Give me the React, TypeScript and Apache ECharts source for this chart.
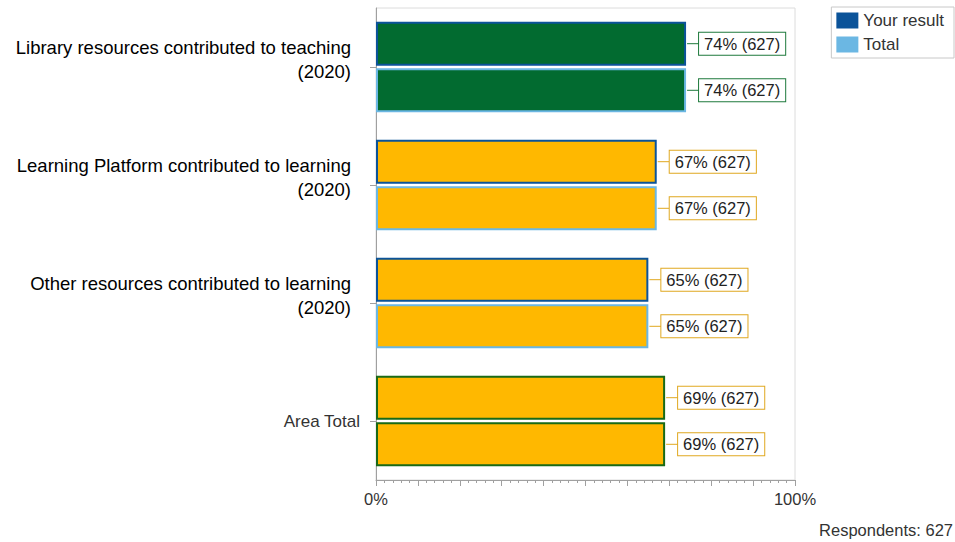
import React, { useEffect, useRef } from "react";
import * as echarts from "echarts";

const categories = [
  "Library resources contributed to teaching\n(2020)",
  "Learning Platform contributed to learning\n(2020)",
  "Other resources contributed to learning\n(2020)",
  "Area Total",
];
const yourResult = [74, 67, 65, 69];
const totalResult = [74, 67, 65, 69];
const respondents = [627, 627, 627, 627];
const fillColors = ["#026B30", "#FFB800", "#FFB800", "#FFB800"];
const labelBorderColors = ["#1E7A3C", "#E0A820", "#E0A820", "#E0A820"];
const seriesNames = ["Your result", "Total"];
const seriesBorders = ["#0B5399", "#6BB7E3"];
const areaTotalBorder = "#1A6A16";
const xTickLabels = ["0%", "100%"];
const respondentsText = "Respondents: 627";

const FONT = "'Liberation Sans', Arial, sans-serif";
const BAR_W = 44;
const BAR_GAP = 2.6;

export default function App() {
  const ref = useRef<HTMLDivElement>(null);
  useEffect(() => {
    if (!ref.current) return;
    const chart = echarts.init(ref.current, null, { renderer: "svg" });
    const values = [yourResult, totalResult];
    const barSeries = values.map((vals, si) => ({
      type: "bar",
      name: seriesNames[si],
      barWidth: BAR_W,
      barGap: (BAR_GAP / BAR_W) * 100 + "%",
      itemStyle: { color: seriesBorders[si] },
      data: vals.map((v, i) => ({
        value: v,
        itemStyle: {
          color: fillColors[i],
          borderColor: i === 3 ? areaTotalBorder : seriesBorders[si],
          borderWidth: 2,
        },
      })),
      z: 2,
    }));
    const labelData: any[] = [];
    values.forEach((vals, si) =>
      vals.forEach((v, i) => labelData.push([v, i, si, respondents[i]]))
    );
    const option: any = {
      animation: false,
      textStyle: { fontFamily: FONT },
      grid: {
        left: 376,
        right: 160,
        top: 8,
        bottom: 62,
        show: true,
        borderColor: "#dcdcdc",
        borderWidth: 1,
        backgroundColor: "transparent",
      },
      legend: {
        orient: "vertical",
        right: 1,
        top: 7,
        itemWidth: 22,
        itemHeight: 16,
        itemGap: 7,
        padding: [5, 10, 5, 5],
        borderColor: "#c8c8c8",
        borderWidth: 1,
        icon: "rect",
        textStyle: { fontSize: 17, color: "#333", fontFamily: FONT },
        data: seriesNames.map((n, si) => ({
          name: n,
          itemStyle: { color: seriesBorders[si], borderWidth: 0 },
        })),
      },
      xAxis: {
        type: "value",
        min: 0,
        max: 100,
        interval: 10,
        splitLine: { show: false },
        axisLine: { show: true, lineStyle: { color: "#a0a0a0" } },
        axisTick: { show: true, length: 6, lineStyle: { color: "#a0a0a0" } },
        minorTick: { show: true, splitNumber: 5, length: 3, lineStyle: { color: "#a0a0a0" } },
        axisLabel: {
          fontSize: 16.5,
          color: "#333",
          margin: 10,
          fontFamily: FONT,
          formatter: (v: number) => (v === 0 ? xTickLabels[0] : v === 100 ? xTickLabels[1] : ""),
        },
      },
      yAxis: {
        type: "category",
        inverse: true,
        data: categories,
        axisLine: { show: true, lineStyle: { color: "#a0a0a0" } },
        axisTick: { show: true, alignWithLabel: true, length: 6, lineStyle: { color: "#a0a0a0" } },
        axisLabel: {
          margin: 16,
          fontFamily: FONT,
          formatter: (v: string) => {
            if (v.indexOf("\n") < 0) return `{b|${v}}`;
            const [l1, l2] = v.split("\n");
            return `{a|${l1}}\n{a|${l2}}\n{s| }`;
          },
          rich: {
            a: { fontSize: 18.5, lineHeight: 24, color: "#000", padding: [0, 9, 0, 0], fontFamily: FONT, align: "right" },
            b: { fontSize: 17, lineHeight: 20, color: "#333", fontFamily: FONT },
            s: { fontSize: 8, lineHeight: 16 },
          },
        },
      },
      series: [
        ...barSeries,
        {
          type: "custom",
          name: "labels",
          data: labelData,
          encode: { x: 0, y: 1 },
          z: 5,
          renderItem: (params: any, api: any) => {
            const v = api.value(0);
            const ci = api.value(1);
            const si = api.value(2);
            const n = api.value(3);
            const pt = api.coord([v, ci]);
            const off = (si === 0 ? -1 : 1) * (BAR_W + BAR_GAP) / 2;
            const x = pt[0] + 1;
            const y = pt[1] + off;
            const col = labelBorderColors[ci];
            return {
              type: "group",
              children: [
                { type: "line", shape: { x1: x, y1: y, x2: x + 12, y2: y }, style: { stroke: col, lineWidth: 1 } },
                {
                  type: "text",
                  style: {
                    text: `${v}% (${n})`,
                    x: x + 12,
                    y: y,
                    verticalAlign: "middle",
                    align: "left",
                    fill: "#222",
                    font: `16.5px ${FONT}`,
                    backgroundColor: "#fff",
                    borderColor: col,
                    borderWidth: 1,
                    padding: [3, 5, 2, 5],
                  },
                },
              ],
            };
          },
        },
      ],
      graphic: [
        {
          type: "text",
          right: 2,
          bottom: 4,
          style: { text: respondentsText, font: `16.5px ${FONT}`, fill: "#333" },
        },
      ],
    };
    chart.setOption(option);
    return () => chart.dispose();
  }, []);
  return <div ref={ref} style={{ width: 955, height: 542, position: "absolute", left: 0, top: 0 }} />;
}
